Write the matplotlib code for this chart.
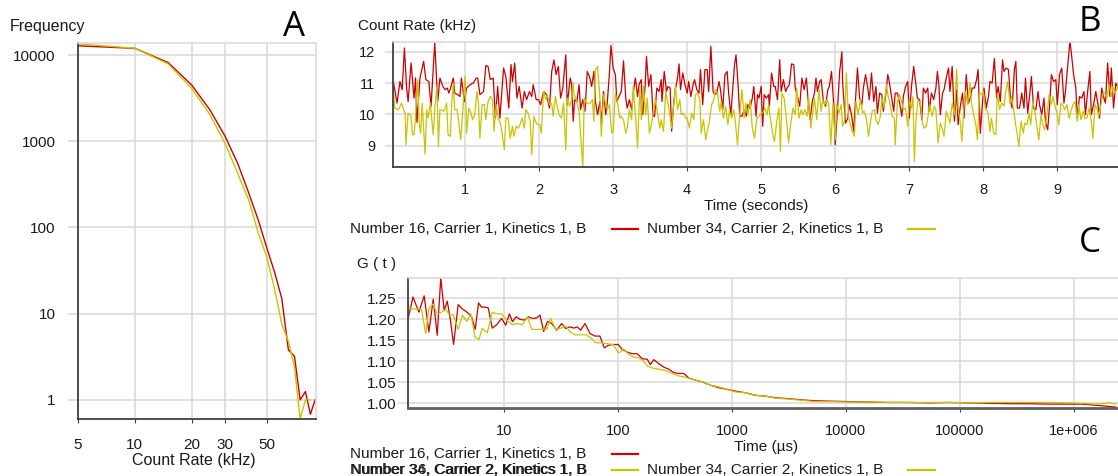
import matplotlib
matplotlib.use('Agg')
import matplotlib.pyplot as plt
from matplotlib.lines import Line2D
from matplotlib.ticker import NullLocator

W, H = 1118, 476
plt.rcParams['font.family'] = ['Liberation Sans', 'DejaVu Sans']

RED = '#cc0000'
YEL = '#c8c400'
GRID = '#d9d9d9'
SPINE = '#404040'
TXT = '#1a1a1a'

# ---- panel A: count rate histogram
rate_a = [5, 10, 15, 20, 25, 30, 35, 40, 45, 50, 55, 60, 65, 70, 75, 80, 85, 90]
freq_red = [12800, 11960, 8200, 4490, 2300, 1150, 556, 254, 122, 57.5, 30, 14.9, 3.8, 3.2, 1.0, 1.25, 0.68, 1.0]
freq_yel = [13500, 12000, 7900, 4110, 2020, 950, 425, 210, 87, 45, 19, 7.5, 4.8, 2.4, 0.6, 1.0, 1.0]

# ---- panel B: count rate traces (time s, kHz)
trace_red = [(0.00,10.10),(0.03,11.05),(0.08,10.36),(0.12,11.05),(0.15,10.79),(0.18,12.12),(0.21,10.84),(0.23,10.41),(0.27,11.64),(0.28,11.37),(0.31,10.52),(0.33,11.16),(0.35,9.75),(0.39,11.16),(0.44,11.69),(0.47,11.11),(0.51,11.05),(0.54,10.26),(0.59,12.28),(0.63,10.41),(0.66,11.16),(0.70,10.89),(0.73,10.79),(0.76,10.84),(0.78,10.68),(0.81,10.89),(0.84,11.16),(0.86,10.68),(0.90,10.63),(0.93,10.57),(0.95,11.16),(0.99,10.41),(1.02,10.84),(1.07,10.95),(1.11,11.00),(1.15,11.16),(1.17,11.16),(1.20,10.63),(1.25,10.73),(1.28,11.56),(1.31,11.53),(1.34,11.11),(1.38,11.16),(1.41,9.88),(1.44,10.89),(1.47,9.88),(1.52,11.48),(1.55,11.21),(1.59,10.20),(1.62,11.59),(1.64,11.05),(1.67,11.64),(1.70,10.52),(1.73,10.89),(1.77,10.20),(1.80,10.73),(1.83,10.47),(1.87,10.73),(1.90,10.57),(1.92,10.95),(1.96,10.47),(1.99,10.47),
             (2.02,10.31),(2.06,10.73),(2.10,10.63),(2.14,10.20),(2.17,11.37),(2.20,11.74),(2.23,11.27),(2.26,11.53),(2.29,10.52),(2.32,10.84),(2.36,11.90),(2.38,10.31),(2.42,11.16),(2.44,10.95),(2.46,9.78),(2.48,10.47),(2.51,10.41),(2.54,10.95),(2.56,10.15),(2.59,10.47),(2.62,10.10),(2.65,11.37),(2.68,11.21),(2.71,10.89),(2.74,11.37),(2.76,10.41),(2.79,9.99),(2.82,10.41),(2.84,9.67),(2.87,10.73),(2.90,9.99),(2.92,10.36),(2.95,11.32),(2.97,12.20),(3.00,11.48),(3.03,11.27),(3.05,10.41),(3.09,10.63),(3.11,10.73),(3.14,11.71),(3.17,10.52),(3.19,10.20),(3.22,10.47),(3.25,10.15),(3.28,10.84),(3.30,11.16),(3.33,10.57),(3.35,10.95),(3.38,11.11),(3.40,9.99),(3.43,10.84),(3.45,11.85),(3.48,10.89),(3.51,11.27),(3.54,9.94),(3.56,9.94),(3.59,10.84),(3.62,10.73),(3.65,11.11),(3.66,10.41),(3.69,11.37),(3.72,10.73),(3.74,10.89),(3.77,10.84),(3.79,9.46),(3.82,10.41),(3.84,10.79),(3.87,11.16),(3.89,11.61),(3.91,10.79),(3.94,11.32),(3.97,10.95),
             (4.00,10.68),(4.02,11.05),(4.05,10.57),(4.08,10.95),(4.10,11.11),(4.13,10.79),(4.16,10.68),(4.18,11.43),(4.21,10.31),(4.24,11.43),(4.27,11.43),(4.29,10.73),(4.32,12.17),(4.35,10.73),(4.37,10.63),(4.40,10.68),(4.43,11.05),(4.45,10.79),(4.48,10.15),(4.51,11.27),(4.54,11.37),(4.56,10.68),(4.59,9.99),(4.62,10.95),(4.64,11.59),(4.66,11.90),(4.69,10.84),(4.71,9.94),(4.74,9.94),(4.77,10.15),(4.80,9.94),(4.82,10.31),(4.85,10.20),(4.88,10.52),(4.90,10.89),(4.93,9.94),(4.95,10.63),(4.97,10.52),(5.00,10.89),(5.02,9.62),(5.04,10.63),(5.07,10.52),(5.10,10.63),(5.11,10.26),(5.14,11.32),(5.17,10.89),(5.19,10.89),(5.22,10.47),(5.25,11.74),(5.27,10.73),(5.30,11.11),(5.33,10.73),(5.35,10.84),(5.38,10.95),(5.41,11.61),(5.44,11.59),(5.46,10.84),(5.49,10.57),(5.52,10.26),(5.55,11.16),(5.58,10.79),(5.61,11.16),(5.63,10.57),(5.66,9.83),(5.69,10.41),(5.72,10.68),(5.74,11.16),(5.76,10.73),(5.79,11.05),(5.81,11.11),(5.84,10.41),(5.87,10.26),(5.90,10.79),(5.92,10.89),(5.95,11.37),(5.98,10.31),
             (6.00,9.03),(6.03,10.15),(6.06,11.37),(6.09,12.00),(6.10,11.00),(6.14,9.72),(6.17,9.88),(6.19,10.31),(6.22,9.99),(6.25,9.46),(6.27,10.31),(6.30,11.48),(6.33,10.52),(6.36,10.31),(6.38,10.84),(6.41,11.27),(6.44,10.84),(6.46,10.47),(6.49,11.32),(6.52,10.41),(6.55,10.89),(6.57,10.04),(6.60,10.68),(6.63,10.63),(6.65,10.10),(6.68,10.57),(6.71,11.27),(6.73,11.05),(6.76,10.57),(6.79,10.10),(6.81,10.68),(6.84,10.68),(6.87,10.36),(6.90,9.94),(6.92,10.57),(6.95,10.89),(6.98,11.05),(7.00,9.88),(7.03,10.89),(7.06,11.53),(7.09,10.95),(7.11,10.52),(7.14,10.47),(7.17,9.83),(7.19,10.84),(7.22,10.68),(7.25,10.84),(7.27,10.10),(7.30,10.68),(7.33,10.47),(7.36,10.84),(7.38,11.37),(7.40,10.95),(7.42,9.99),(7.45,10.68),(7.47,10.79),(7.50,11.16),(7.53,11.48),(7.55,10.73),(7.58,11.53),(7.61,9.78),(7.64,10.79),(7.66,9.67),(7.69,10.26),(7.72,10.68),(7.74,9.88),(7.77,11.27),(7.80,10.36),(7.83,10.57),(7.85,10.84),(7.88,10.84),(7.91,11.11),(7.93,11.43),(7.96,9.40),(7.99,10.41),
             (8.01,10.84),(8.04,10.20),(8.07,10.57),(8.09,11.05),(8.12,11.00),(8.15,11.78),(8.18,10.52),(8.20,10.89),(8.23,10.41),(8.26,11.74),(8.28,11.37),(8.31,11.48),(8.34,11.43),(8.37,10.41),(8.39,10.20),(8.42,11.43),(8.44,11.69),(8.46,10.20),(8.49,10.20),(8.52,10.68),(8.55,10.20),(8.57,11.16),(8.60,10.04),(8.63,10.68),(8.65,11.21),(8.68,10.20),(8.71,10.15),(8.74,10.73),(8.76,10.31),(8.79,9.99),(8.82,10.52),(8.84,9.78),(8.87,9.51),(8.90,10.41),(8.92,11.27),(8.95,11.05),(8.98,11.11),(9.00,10.31),(9.03,11.27),(9.06,11.48),(9.09,10.36),(9.11,10.73),(9.14,11.53),(9.17,12.33),(9.19,11.96),(9.22,11.27),(9.25,10.84),(9.27,9.88),(9.30,10.57),(9.33,10.52),(9.36,10.73),(9.38,9.99),(9.41,10.73),(9.44,11.37),(9.46,9.99),(9.49,10.31),(9.52,10.73),(9.55,10.31),(9.57,9.88),(9.60,10.84),(9.63,10.52),(9.65,10.36),(9.68,11.64),(9.71,10.57),(9.73,11.48),(9.76,10.20),(9.79,11.00),(9.82,10.84)]

trace_yel = [(0.00,9.65),(0.02,11.00),(0.05,10.20),(0.09,10.15),(0.11,10.20),(0.14,10.36),(0.17,10.15),(0.19,10.04),(0.20,9.03),(0.23,10.04),(0.27,9.94),(0.29,9.35),(0.31,9.35),(0.33,9.94),(0.36,11.11),(0.38,9.72),(0.40,9.40),(0.42,10.36),(0.46,8.73),(0.48,10.15),(0.50,9.88),(0.53,10.36),(0.55,9.83),(0.57,9.35),(0.59,10.20),(0.62,10.89),(0.64,8.98),(0.66,10.15),(0.68,10.15),(0.71,10.10),(0.73,10.20),(0.75,10.36),(0.77,9.35),(0.80,9.30),(0.82,10.36),(0.84,11.00),(0.86,10.15),(0.89,10.15),(0.91,9.83),(0.94,9.19),(0.97,10.15),(1.00,11.21),(1.02,9.40),(1.05,10.20),(1.08,10.04),(1.10,9.83),(1.13,9.99),(1.16,10.73),(1.18,10.36),(1.20,9.24),(1.23,10.31),(1.26,10.31),(1.28,9.83),(1.31,10.41),(1.34,10.57),(1.37,10.47),(1.39,9.46),(1.42,10.31),(1.45,9.83),(1.47,9.78),(1.50,9.40),(1.53,8.87),(1.55,9.88),(1.58,9.88),(1.61,9.24),(1.64,9.62),(1.66,9.30),(1.69,9.62),(1.72,9.56),(1.74,9.67),(1.77,9.88),(1.80,9.56),(1.82,10.15),(1.85,10.04),(1.88,9.78),(1.90,8.71),(1.93,9.94),(1.95,9.78),(1.98,9.67),
             (2.01,9.67),(2.03,9.40),(2.06,10.73),(2.09,10.47),(2.11,10.63),(2.14,10.31),(2.17,10.36),(2.19,9.94),(2.22,10.57),(2.25,10.20),(2.27,9.99),(2.30,9.88),(2.33,10.36),(2.36,8.87),(2.38,10.52),(2.41,10.26),(2.44,10.47),(2.46,11.00),(2.47,10.63),(2.50,10.47),(2.54,10.10),(2.56,9.35),(2.59,8.34),(2.61,10.52),(2.64,10.36),(2.66,10.36),(2.69,10.36),(2.72,10.47),(2.74,9.78),(2.76,11.43),(2.79,11.53),(2.82,10.57),(2.84,9.30),(2.87,10.63),(2.90,10.31),(2.92,10.15),(2.95,10.31),(2.98,9.40),(3.00,9.46),(3.03,10.68),(3.06,10.36),(3.09,9.88),(3.11,9.94),(3.14,9.83),(3.17,9.40),(3.19,9.56),(3.22,10.15),(3.25,9.83),(3.27,10.89),(3.30,9.99),(3.33,8.93),(3.36,10.89),(3.38,9.83),(3.41,10.89),(3.44,9.99),(3.46,10.52),(3.49,9.40),(3.52,9.72),(3.54,10.04),(3.57,10.47),(3.60,10.04),(3.63,9.56),(3.65,9.83),(3.68,9.46),(3.71,10.73),(3.73,10.47),(3.76,10.10),(3.79,9.56),(3.82,10.36),(3.84,10.89),(3.87,10.15),(3.90,10.47),(3.92,9.99),(3.95,10.04),(3.98,9.88),
             (4.00,9.88),(4.03,9.56),(4.06,10.04),(4.09,9.83),(4.11,10.63),(4.14,10.68),(4.17,10.47),(4.19,9.40),(4.22,9.83),(4.25,9.19),(4.28,9.56),(4.30,9.78),(4.33,10.31),(4.36,10.47),(4.38,10.79),(4.41,10.68),(4.44,10.10),(4.46,10.41),(4.49,9.88),(4.52,10.26),(4.55,9.67),(4.57,10.10),(4.60,9.88),(4.63,10.15),(4.65,9.78),(4.68,9.03),(4.71,9.99),(4.74,10.79),(4.77,9.88),(4.79,10.36),(4.82,9.99),(4.85,10.47),(4.88,9.56),(4.91,9.24),(4.94,9.88),(4.97,9.94),(5.00,10.04),(5.02,10.04),(5.05,10.20),(5.08,9.99),(5.10,10.31),(5.13,9.78),(5.16,9.30),(5.18,9.14),(5.21,9.78),(5.24,10.20),(5.26,8.82),(5.28,10.68),(5.31,10.52),(5.34,9.88),(5.37,9.09),(5.40,9.72),(5.43,10.20),(5.46,9.99),(5.48,10.84),(5.51,9.88),(5.54,10.15),(5.56,9.99),(5.59,10.15),(5.62,9.94),(5.64,10.57),(5.67,9.56),(5.70,10.15),(5.72,10.52),(5.75,9.83),(5.78,10.79),(5.81,10.10),(5.83,10.47),(5.86,10.31),(5.89,10.47),(5.91,10.36),(5.94,9.03),(5.97,10.36),
             (6.00,9.19),(6.02,10.31),(6.05,10.04),(6.08,10.31),(6.10,9.62),(6.13,9.83),(6.15,11.32),(6.18,9.88),(6.20,9.72),(6.23,9.46),(6.26,9.30),(6.28,10.41),(6.31,9.99),(6.34,10.47),(6.37,10.04),(6.39,10.10),(6.42,9.88),(6.45,9.30),(6.47,9.67),(6.50,10.10),(6.53,10.15),(6.55,9.83),(6.58,9.67),(6.61,9.94),(6.63,10.52),(6.66,10.20),(6.69,10.95),(6.72,10.52),(6.74,10.36),(6.77,9.94),(6.80,9.88),(6.81,9.03),(6.84,10.41),(6.87,10.63),(6.90,10.36),(6.92,10.15),(6.95,10.20),(6.98,9.62),(7.00,10.47),(7.03,10.20),(7.05,10.57),(7.07,8.50),(7.09,9.83),(7.12,10.47),(7.15,10.36),(7.18,9.72),(7.20,9.56),(7.23,9.62),(7.26,10.04),(7.28,10.31),(7.31,9.94),(7.34,10.26),(7.36,10.15),(7.39,9.09),(7.42,9.72),(7.45,9.51),(7.47,9.30),(7.50,10.10),(7.53,9.88),(7.55,9.72),(7.58,10.36),(7.61,9.99),(7.64,11.43),(7.66,10.20),(7.69,9.72),(7.71,9.14),(7.74,10.31),(7.76,10.73),(7.79,10.31),(7.82,11.00),(7.84,10.36),(7.87,9.99),(7.90,9.67),(7.92,9.19),(7.95,10.68),(7.98,10.63),
             (8.00,10.73),(8.03,10.15),(8.06,10.10),(8.09,9.46),(8.11,9.88),(8.14,9.40),(8.17,9.35),(8.19,10.68),(8.22,10.15),(8.25,10.36),(8.28,10.26),(8.30,10.68),(8.33,11.05),(8.36,10.36),(8.38,10.57),(8.41,10.15),(8.44,9.62),(8.46,9.35),(8.48,8.98),(8.51,9.78),(8.54,9.40),(8.56,9.72),(8.59,9.67),(8.62,10.04),(8.64,9.67),(8.67,10.41),(8.70,10.04),(8.73,9.51),(8.75,9.19),(8.78,9.99),(8.81,9.62),(8.83,9.51),(8.86,9.99),(8.89,10.63),(8.92,10.31),(8.94,10.57),(8.97,10.26),(9.00,9.99),(9.02,9.67),(9.05,10.36),(9.08,10.26),(9.10,10.15),(9.13,10.31),(9.16,9.88),(9.19,10.15),(9.21,10.31),(9.24,10.41),(9.27,9.78),(9.29,10.31),(9.32,9.83),(9.35,10.10),(9.37,9.88),(9.40,9.88),(9.43,10.20),(9.46,9.78),(9.48,9.24),(9.51,10.31),(9.54,10.15),(9.56,9.94),(9.59,10.31),(9.62,10.68),(9.64,10.68),(9.67,10.52),(9.70,10.95),(9.73,10.57),(9.75,10.89),(9.78,10.68),(9.81,10.84),(9.82,10.95)]

# ---- panel C: correlation curves (lag us, G)
corr_red = [(1.39,1.186),(1.58,1.253),(1.78,1.217),(1.98,1.256),(2.18,1.170),(2.38,1.248),(2.58,1.162),(2.77,1.298),(2.97,1.221),(3.16,1.243),(3.37,1.198),(3.59,1.140),(3.94,1.235),(4.27,1.225),(4.60,1.219),(4.89,1.213),(5.17,1.206),(5.56,1.176),(5.95,1.239),(6.31,1.229),(6.76,1.229),(7.24,1.227),(7.85,1.179),(8.57,1.187),(9.48,1.202),(10.3,1.186),(11.1,1.213),(11.8,1.194),(12.7,1.206),(13.7,1.200),(15.0,1.198),(16.3,1.206),(17.7,1.202),(19.2,1.203),(20.6,1.210),(22.2,1.171),(24.0,1.195),(26.1,1.190),(28.8,1.174),(31.9,1.190),(34.6,1.178),(37.8,1.182),(40.9,1.179),(43.8,1.182),(46.9,1.174),(51.2,1.190),(56.6,1.166),(62.6,1.160),(69.2,1.160),(75.6,1.132),(82,1.138),(90.7,1.140),(100,1.140),(108,1.129),(120,1.122),(133,1.118),(147,1.118),(163,1.106),(180,1.105),(192,1.092),(206,1.104),(228,1.094),(252,1.086),(279,1.081),(308,1.073),(341,1.071),(378,1.071),(418,1.060),(478,1.055),(547,1.051),(648,1.043),(767,1.037),(908,1.033),(1074,1.029),(1315,1.025),(1610,1.019),(1972,1.017),(2414,1.013),(3165,1.011),(4143,1.008),(5424,1.006),(7590,1.005),(10640,1.004),(15950,1.003),(23900,1.002),(35800,1.002),(53700,1.001),(80500,1.002),(120600,1.001),(180700,1.000),(271000,0.999),(406000,0.999),(608000,0.998),(912000,0.998),(1.19e6,0.998),(1.46e6,0.996),(1.79e6,0.994),(2.35e6,0.991)]
corr_yel = [(1.39,1.233),(1.53,1.225),(1.71,1.224),(1.88,1.224),(2.04,1.166),(2.18,1.225),(2.38,1.237),(2.58,1.211),(2.82,1.217),(3.05,1.224),(3.29,1.211),(3.56,1.211),(3.94,1.176),(4.30,1.210),(4.67,1.195),(5.10,1.213),(5.52,1.158),(6.0,1.152),(6.4,1.178),(7.1,1.168),(7.85,1.217),(8.57,1.213),(9.48,1.213),(10.5,1.198),(11.8,1.187),(13.0,1.190),(14.4,1.187),(16.0,1.206),(17.4,1.176),(19.2,1.176),(21.3,1.176),(23.6,1.176),(25.5,1.202),(28.3,1.176),(31.5,1.179),(34.6,1.184),(37.8,1.170),(41.7,1.163),(47.8,1.163),(52.9,1.163),(58.5,1.154),(63.4,1.144),(71.5,1.144),(79.2,1.142),(90.7,1.140),(100,1.121),(103,1.121),(112,1.129),(125,1.116),(137,1.110),(152,1.108),(165,1.102),(180,1.089),(199,1.084),(228,1.081),(260,1.078),(298,1.071),(341,1.065),(390,1.062),(447,1.057),(547,1.051),(648,1.043),(767,1.039),(908,1.033),(1074,1.027),(1315,1.025),(1610,1.019),(1972,1.017),(2414,1.012),(3165,1.010),(4143,1.007),(5424,1.004),(7590,1.004),(10640,1.003),(15950,1.003),(23900,1.002),(35800,1.002),(53700,1.002),(80500,1.002),(120600,1.001),(180700,1.002),(271000,1.002),(406000,1.002),(608000,1.002),(912000,1.001),(1.19e6,1.000),(1.55e6,0.998),(2.05e6,1.001),(2.35e6,0.998)]

label_16 = 'Number 16, Carrier 1, Kinetics 1, B'
label_34 = 'Number 34, Carrier 2, Kinetics 1, B'
label_36 = 'Number 36, Carrier 2, Kinetics 1, B'


def box(l, t, r, b):
  return [l/W, 1-b/H, (r-l)/W, (b-t)/H]

def ftext(x, y, s, **kw):
  kw.setdefault('color', TXT)
  kw.setdefault('va', 'center')
  fig.text(x/W, 1-y/H, s, **kw)

def fline(x0, x1, y, c):
  fig.add_artist(Line2D([x0/W, x1/W], [1-y/H, 1-y/H], color=c, lw=1.6))

def style(ax, right=True):
  ax.grid(True, color=GRID, lw=1.1)
  ax.set_axisbelow(True)
  ax.spines['top'].set_color(GRID)
  ax.spines['top'].set_linewidth(1.1)
  ax.spines['right'].set_color(GRID)
  ax.spines['right'].set_linewidth(1.1)
  ax.spines['right'].set_visible(right)
  for s in ['left', 'bottom']:
    ax.spines[s].set_color(SPINE)
    ax.spines[s].set_linewidth(1.3)
  ax.xaxis.set_minor_locator(NullLocator())
  ax.yaxis.set_minor_locator(NullLocator())


fig = plt.figure(figsize=(W/100, H/100), dpi=100)

# A
axA = fig.add_axes(box(78, 43, 316, 419))
axA.plot(rate_a, freq_red, color=RED, lw=1.0)
axA.plot(rate_a[:len(freq_yel)], freq_yel, color=YEL, lw=1.0)
axA.set_xscale('log')
axA.set_yscale('log')
axA.set_xlim(5, 91)
axA.set_ylim(0.6, 13800)
style(axA)
axA.set_xticks([5, 10, 20, 30, 50], ['5', '10', '20', '30', '50'])
axA.set_yticks([1, 10, 100, 1000, 10000], ['1', '10', '100', '1000', '10000'])
axA.tick_params(axis='x', length=3, color=SPINE, pad=11, labelsize=11, labelcolor=TXT)
axA.tick_params(axis='y', length=7, color=GRID, width=1.1, pad=9, labelsize=11, labelcolor=TXT)
ftext(10, 27, 'Frequency', size=11.5)
ftext(194, 461, 'Count Rate (kHz)', size=11.5, ha='center')

# B
axB = fig.add_axes(box(393.3, 41.7, 1118, 166.7))
tr, vr = zip(*trace_red)
ty, vy = zip(*trace_yel)
axB.plot(tr, vr, color=RED, lw=0.9)
axB.plot(ty, vy, color=YEL, lw=0.9)
axB.set_xlim(0.03, 9.82)
axB.set_ylim(8.33, 12.32)
style(axB, right=False)
axB.set_xticks(range(1, 10))
axB.set_yticks([9, 10, 11, 12])
axB.tick_params(axis='x', length=3, color=SPINE, pad=9, labelsize=10.5, labelcolor=TXT)
axB.tick_params(axis='y', length=6, color=GRID, width=1.1, pad=7, labelsize=10.5, labelcolor=TXT)
ftext(358, 26, 'Count Rate (kHz)', size=11)
ftext(756, 206, 'Time (seconds)', size=11, ha='center')

# legend B
ftext(350, 229, label_16, size=11)
fline(612, 638, 229, RED)
ftext(647, 229, label_34, size=11)
fline(908, 935, 229, YEL)

# C
axC = fig.add_axes(box(407.7, 277.7, 1118, 407.7))
cr, gr = zip(*corr_red)
cy, gy = zip(*corr_yel)
axC.plot(cr, gr, color=RED, lw=0.9)
axC.plot(cy, gy, color=YEL, lw=0.9)
axC.set_xscale('log')
axC.set_xlim(1.42, 2.45e6)
axC.set_ylim(0.9895, 1.299)
style(axC, right=False)
axC.spines['bottom'].set_color('#606060')
axC.spines['bottom'].set_linewidth(2)
axC.set_xticks([10, 100, 1000, 1e4, 1e5, 1e6], ['10', '100', '1000', '10000', '100000', '1e+006'])
axC.set_yticks([1.0, 1.05, 1.1, 1.15, 1.2, 1.25], ['1.00', '1.05', '1.10', '1.15', '1.20', '1.25'])
axC.tick_params(axis='x', length=3, color=SPINE, pad=9, labelsize=10.5, labelcolor=TXT)
axC.tick_params(axis='y', length=7, color=GRID, width=1.1, pad=1, labelsize=11, labelcolor=TXT)
ftext(357, 264, 'G ( t )', size=11)
ftext(766, 447, 'Time (\u00b5s)', size=11, ha='center')

# legend C (second row overprinted as in the source)
ftext(350, 453.5, label_16, size=11)
fline(612, 638, 453.5, RED)
ftext(350, 470, label_34, size=11)
ftext(350.6, 470, label_36, size=11)
fline(612, 638, 470, YEL)
ftext(647, 470, label_34, size=11)
fline(908, 935, 470, YEL)

# panel letters
for s, x, y in [('A', 294, 27), ('B', 1090, 22), ('C', 1090, 243)]:
  ftext(x, y, s, size=25, ha='center', family=['Open Sans', 'DejaVu Sans'], color='black')

fig.savefig('out.png', dpi=100)
